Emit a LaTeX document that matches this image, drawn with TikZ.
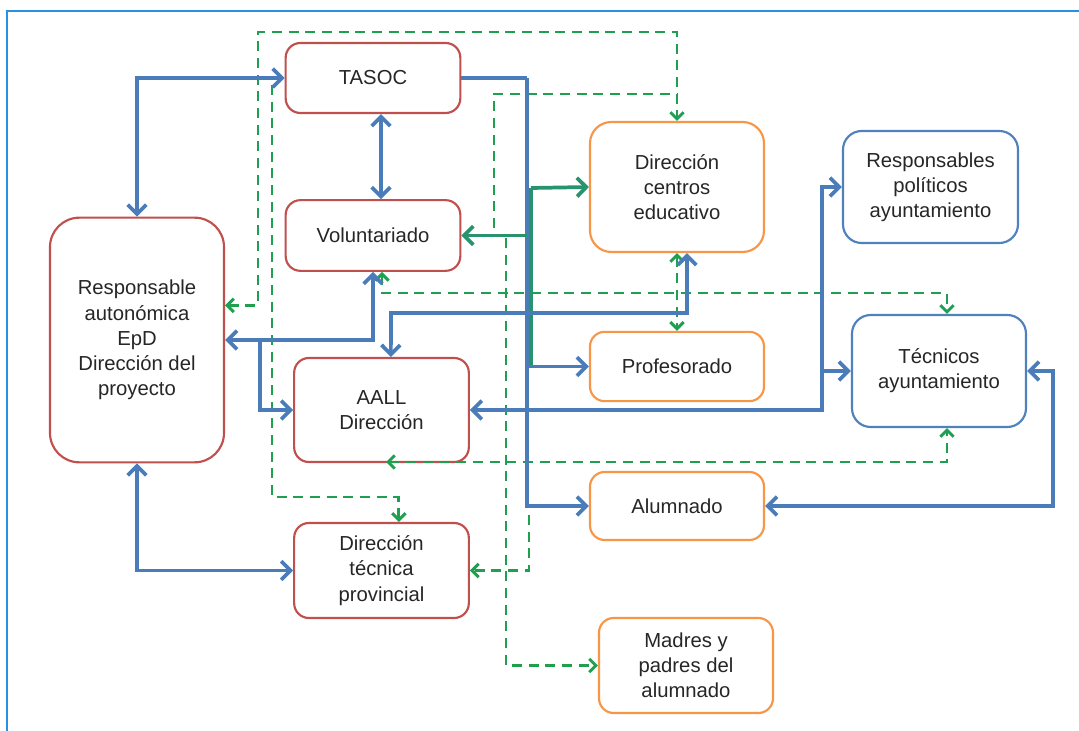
\documentclass[tikz,border=0pt]{standalone}
\usepackage{fontspec}
\setmainfont{Liberation Sans}
\usetikzlibrary{arrows.meta}

\definecolor{boxred}{RGB}{192,80,77}
\definecolor{boxorange}{RGB}{247,150,70}
\definecolor{boxblue}{RGB}{79,129,189}
\definecolor{linkblue}{RGB}{74,124,186}
\definecolor{linkgreen}{RGB}{30,160,80}
\definecolor{linkteal}{RGB}{40,148,110}
\definecolor{framecol}{RGB}{40,145,225}

\begin{document}
\begin{tikzpicture}[
  x = 0.75pt, y = -0.75pt,
  every node/.style = {align = center, font = \fontsize{15.2}{18.9}\selectfont, text = black!85},
  box/.style = {draw, rounded corners = 11pt, line width = 1.6pt, fill = white, minimum width = 131pt},
  redbox/.style = {box, draw = boxred},
  orangebox/.style = {box, draw = boxorange},
  bluebox/.style = {box, draw = boxblue},
  link/.style = {draw = linkblue, line width = 2.8pt, >= {Straight Barb[length = 7pt, width = 14pt]}},
  glink/.style = {draw = linkteal, line width = 2.8pt, >= {Straight Barb[length = 7pt, width = 14pt]}},
  dlink/.style = {draw = linkgreen, line width = 2.2pt, dash pattern = on 7.5pt off 5pt,
                  >= {Straight Barb[length = 5pt, width = 10pt]}},
  ]
  \useasboundingbox (0,0) rectangle (1079,731);
  \draw[framecol, line width = 1.6pt] (7,731) -- (7,11) -- (1079,11);

  \node[redbox, minimum height = 52.5pt] (tasoc) at (373,78) {TASOC};
  \node[redbox, minimum height = 53pt] (vol) at (373,235.5) {Voluntariado};
  \node[redbox, rounded corners = 22pt, minimum width = 130.5pt, minimum height = 183.5pt] (resp) at (137,340)
    {Responsable\\autonómica\\EpD\\Dirección del\\proyecto};
  \node[redbox, minimum height = 78pt] (aall) at (381.5,410) {AALL\\Dirección};
  \node[redbox, minimum height = 71.25pt] (dtp) at (381.5,570.5) {Dirección\\técnica\\provincial};
  \node[orangebox, rounded corners = 16pt, minimum width = 130.5pt, minimum height = 97.5pt] (dc) at (677,187)
    {Dirección\\centros\\educativo};
  \node[orangebox, minimum width = 130.5pt, minimum height = 52pt] (prof) at (677,366.5) {Profesorado};
  \node[orangebox, minimum width = 130.5pt, minimum height = 51pt] (alum) at (677,506) {Alumnado};
  \node[orangebox, minimum width = 130.5pt, minimum height = 71.25pt] (madres) at (686,665.5)
    {Madres y\\padres del\\alumnado};
  \node[bluebox, rounded corners = 14pt, minimum width = 131.25pt, minimum height = 84pt] (pol) at (930.5,187)
    {Responsables\\políticos\\ayuntamiento};
  \node[bluebox, rounded corners = 14pt, minimum width = 130.5pt, minimum height = 84pt] (tec) at (939,371)
    {Técnicos\\ayuntamiento};

  \coordinate (topl) at (258,32);
  \coordinate (dl2) at (272,85);
  \coordinate (dl2b) at (272,497);
  \coordinate (dl3) at (494,228);
  \coordinate (dl3b) at (677,94);
  \coordinate (dl4) at (506,238);
  \coordinate (dl5) at (947,293);
  \coordinate (dl6) at (386,462);
  \coordinate (dl7) at (529,515);
  \coordinate (trunk) at (527,78);
  \coordinate (gtrunk) at (531,188);
  \coordinate (j1) at (260,340);
  \coordinate (aallup) at (391,313);
  \coordinate (polx) at (822,187);
  \coordinate (tecr) at (1053,440);

  \draw[dlink, <->] ([yshift = 26pt]resp.east) -| (topl) -| (dc.north);
  \draw[dlink, ->] (dl2) -- (dl2b) -| ([xshift = 13pt]dtp.north);
  \draw[dlink] (dl3) |- (dl3b);
  \draw[dlink, ->] (dl4) |- (madres.west);
  \draw[dlink, <->] ([xshift = 6.75pt]vol.south) |- (dl5) -- ([xshift = 6pt]tec.north);
  \draw[dlink, <->] (dc.south) -- (prof.north);
  \draw[dlink, <->] (dl6) -| ([xshift = 6pt]tec.south);
  \draw[dlink, ->] (dl7) |- (dtp.east);

  \draw[glink] (gtrunk |- prof.west) -- (gtrunk);
  \draw[glink, ->] (gtrunk) -- (dc.west);
  \draw[link] (tasoc.east) -- (trunk);
  \draw[link, ->] (trunk) |- (alum.west);
  \draw[link, ->] (trunk |- prof.west) -- (prof.west);
  \draw[glink, ->] (trunk |- vol.east) -- (vol.east);

  \draw[link, <->] (resp.north) |- (tasoc.west);
  \draw[link, <->] (resp.south) |- (dtp.west);
  \draw[link, <->] ([xshift = 6pt]tasoc.south) -- ([xshift = 6pt]vol.north);
  \draw[link, <->] (vol.south) |- (resp.east);
  \draw[link, ->] (j1) |- (aall.west);
  \draw[link, <->] ([xshift = 7pt]aall.north) -- (aallup) -| ([xshift = 7.5pt]dc.south);
  \draw[link, <->] (aall.east) -| (polx) -- (pol.west);
  \draw[link, ->] (polx |- tec.west) -- (tec.west);
  \draw[link, <->] (tec.east) -| (tecr) |- (alum.east);
\end{tikzpicture}
\end{document}
